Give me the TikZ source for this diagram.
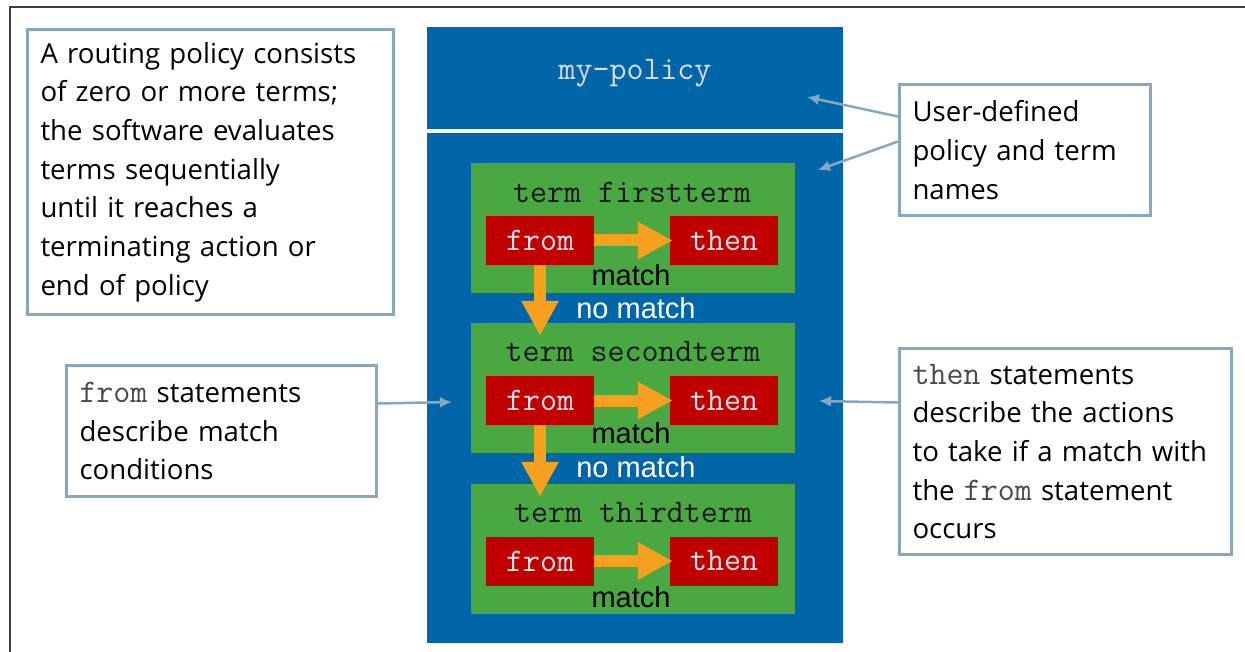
\documentclass[tikz,border=0pt]{standalone}
\usepackage{fontspec}
\setmainfont{Open Sans}
\newfontfamily\arialf{Liberation Sans}
\usetikzlibrary{arrows.meta}
\definecolor{polblue}{HTML}{0066A8}
\definecolor{termgreen}{HTML}{4AA843}
\definecolor{actred}{HTML}{C00000}
\definecolor{flowor}{HTML}{F5A01F}
\definecolor{callc}{HTML}{88A8C2}
\definecolor{framec}{HTML}{3C3C3C}
\definecolor{monogray}{HTML}{4A4A4A}
\definecolor{lightmono}{HTML}{DADADA}
\definecolor{redtext}{HTML}{F4E6E6}
\newcommand{\cmono}[1]{{\fontsize{33}{38.7}\selectfont\ttfamily\color{monogray}#1}}
\tikzset{
  callout/.style={draw=callc, line width=3pt, fill=white, align=left, anchor=north west,
    inner xsep=13pt, inner ysep=0pt, font=\fontsize{27.6}{38.7}\selectfont, text=black},
  bluebox/.style={fill=polblue, inner sep=0pt, minimum width=416pt},
  termbox/.style={fill=termgreen, inner sep=0pt, minimum width=324pt, minimum height=130pt},
  actbox/.style={fill=actred, inner sep=0pt, minimum width=108pt, minimum height=49pt,
    text=redtext, font=\fontsize{33}{38}\selectfont\ttfamily},
  termtitle/.style={inner sep=0pt, text=black!90, font=\fontsize{33}{38}\selectfont\ttfamily},
  matchlbl/.style={inner sep=0pt, text=black, font=\fontsize{29}{32}\selectfont\arialf},
  nomatchlbl/.style={inner sep=0pt, text=white, font=\fontsize{29}{32}\selectfont\arialf},
  orangearr/.style={draw=flowor, line width=12pt, -{Triangle[width=35pt,length=35pt]}},
  callarr/.style={draw=callc, line width=2.5pt, -{Latex[width=11pt,length=12pt]}},
}
\begin{document}
\begin{tikzpicture}[x=1pt,y=-1pt]
\useasboundingbox (0,0) rectangle (1245,652);
\fill[white] (0,0) rectangle (1245,652);
% outer frame
\draw[framec, line width=2.5pt] (1245,7) -- (10,7) -- (10,652);

% policy boxes
\node[bluebox, minimum height=102pt] (pol) at (635,78) {};
\node[inner sep=0pt, text=lightmono, font=\fontsize{33}{38}\selectfont\ttfamily] (pname) at (635,73) {my-policy};
\node[bluebox, minimum height=510pt] (body) at (635,388) {};

% terms
\node[termbox] (g1) at (633,228.5) {};
\node[termbox] (g2) at (633,388) {};
\node[termbox] (g3) at (633,549) {};

\node[termtitle] (t1) at (632,192) {term firstterm};
\node[termtitle] (t2) at (633,352) {term secondterm};
\node[termtitle] (t3) at (633,513) {term thirdterm};

\node[actbox] (f1) at (540,240.5) {from};
\node[actbox] (h1) at (724,240.5) {then};
\node[actbox] (f2) at (540,400.5) {from};
\node[actbox] (h2) at (724,400.5) {then};
\node[actbox] (f3) at (540,561) {from};
\node[actbox] (h3) at (724,561) {then};

\draw[orangearr, shorten >=-3pt] (f1.east) -- (h1.west);
\draw[orangearr, shorten >=-3pt] (f2.east) -- (h2.west);
\draw[orangearr, shorten >=-3pt] (f3.east) -- (h3.west);
\draw[orangearr, shorten >=-13pt] (f1.south) -- (f1.south |- g2.north);
\draw[orangearr, shorten >=-13pt] (f2.south) -- (f2.south |- g3.north);

\node[matchlbl] (m1) at (631,275) {match};
\node[matchlbl] (m2) at (631,433) {match};
\node[matchlbl] (m3) at (631,597) {match};
\node[nomatchlbl] (n1) at (636,308) {no match};
\node[nomatchlbl] (n2) at (636,467) {no match};

% callouts
\node[callout, minimum width=366pt, minimum height=285pt, text width=340pt] (cl) at (26,28)
 {A routing policy consists\\of zero or more terms;\\the software evaluates\\terms sequentially\\until it reaches a\\terminating action or\\end of policy};
\node[callout, minimum width=251pt, minimum height=131pt, text width=225pt] (ud) at (898,83)
 {User-defined\\policy and term\\names};
\node[callout, minimum width=332pt, minimum height=206pt, text width=306pt] (ct) at (898,347)
 {\cmono{then} statements\\describe the actions\\to take if a match with\\the \cmono{from} statement\\occurs};
\node[callout, minimum width=310pt, minimum height=131pt, text width=284pt] (cf) at (65,364)
 {\cmono{from} statements\\describe match\\conditions};

\coordinate (tp1) at (807,97);
\coordinate (tp2) at (818,170);
\coordinate (tp3) at (819,401);
\coordinate (tp4) at (452,402);
\draw[callarr] ([yshift=33.5pt]ud.west) -- (tp1);
\draw[callarr] ([yshift=8.5pt]ud.west) -- (tp2);
\draw[callarr] ([yshift=49pt]ct.west) -- (tp3);
\draw[callarr] ([yshift=27.5pt]cf.east) -- (tp4);
\end{tikzpicture}
\end{document}
